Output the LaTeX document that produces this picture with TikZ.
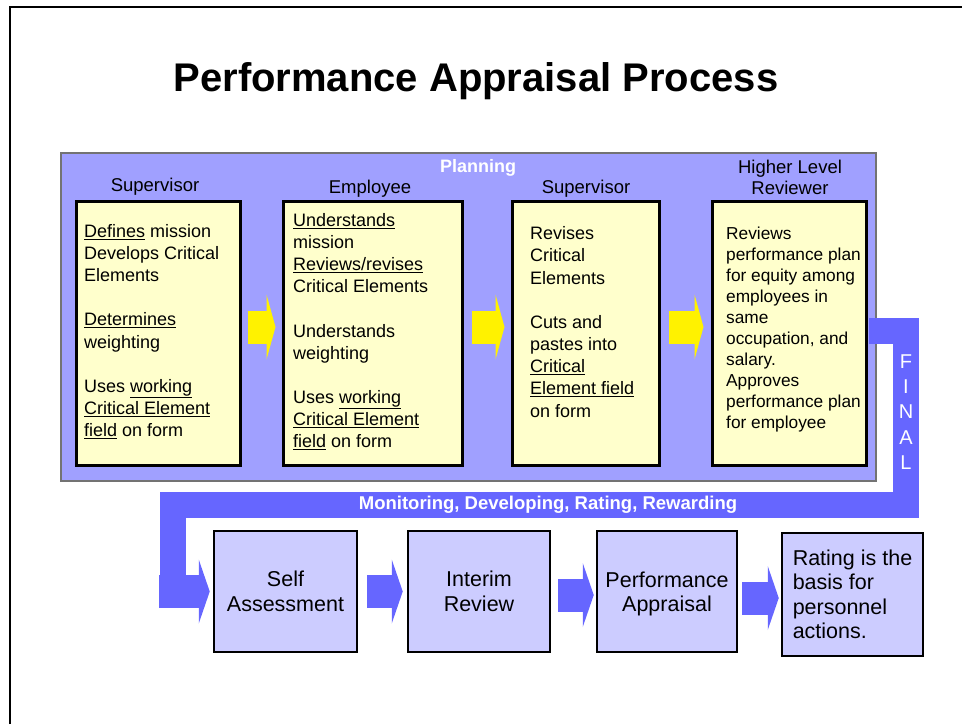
\documentclass[tikz,border=0pt]{standalone}
\usepackage{fontspec}
\setmainfont{Liberation Sans}
\usetikzlibrary{arrows.meta}
\usetikzlibrary{positioning}

\definecolor{planfill}{HTML}{A0A0FF}
\definecolor{flowblue}{HTML}{6666FF}
\definecolor{lowfill}{HTML}{CCCCFF}
\definecolor{notefill}{HTML}{FFFFCC}

\newcommand{\fsz}[2]{\fontsize{#1}{#2}\selectfont}

\begin{document}
\begin{tikzpicture}[x=1pt,y=-1pt,line join=miter,
  notebox/.style={draw=black,line width=3pt,fill=notefill,inner sep=0pt},
  lowbox/.style={draw=black,line width=2.5pt,fill=lowfill,inner sep=0pt,align=center,font=\fsz{21.5}{24.5}},
  head/.style={font=\fsz{18.5}{21},align=center},
  notetxt/.style={anchor=north west,inner sep=0pt,align=left,font=\fsz{18}{22.2}},
  yarrow/.style={draw=yellow,line width=33pt,-{Triangle[length=9pt,width=65pt,line width=0pt]}},
  barrow/.style={draw=flowblue,line width=33pt,-{Triangle[length=11pt,width=64pt,line width=0pt]}},
  finalbar/.style={draw=flowblue,line width=26pt}]
\useasboundingbox (0,0) rectangle (962,724);
% slide frame
\draw [line width=2pt] (10,724) -- (10,7) -- (962,7);
\node[font=\fsz{40}{48}\bfseries] (title) at (476,81) {Performance Appraisal Process};
% planning block
\draw [fill=planfill,draw=black!55,line width=1.5pt] (61,153) rectangle (876,481);
\node[font=\fsz{18}{21}\bfseries,text=white] (plan) at (478,168) {Planning};
\node[head] (h1) at (155,187) {Supervisor};
\node[head] (h2) at (370,189) {Employee};
\node[head] (h3) at (586,189) {Supervisor};
\node[head] (h4) at (790,177) {Higher Level\\Reviewer};
\node[notebox,minimum width=164pt,minimum height=264pt] (sup1) at (158,333) {};
\node[notebox,minimum width=179pt,minimum height=264pt] (emp) at (372.5,333) {};
\node[notebox,minimum width=147pt,minimum height=264pt] (sup2) at (585.5,333) {};
\node[notebox,minimum width=154pt,minimum height=264pt] (rev) at (789,333) {};
\node[notetxt] (t1) at (84,224) {\underline{Defines} mission\\Develops Critical\\Elements\\[22pt]\underline{Determines}\\weighting\\[22pt]Uses \underline{working}\\\underline{Critical Element}\\\underline{field} on form};
\node[notetxt] (t2) at (293,213) {\underline{Understands}\\mission\\\underline{Reviews/revises}\\Critical Elements\\[22pt]Understands\\weighting\\[22pt]Uses \underline{working}\\\underline{Critical Element}\\\underline{field} on form};
\node[notetxt] (t3) at (530,226.5) {Revises\\Critical\\Elements\\[22pt]Cuts and\\pastes into\\\underline{Critical}\\\underline{Element field}\\on form};
\node[notetxt,font=\fsz{17.3}{21}] (t4) at (726,226.8) {Reviews\\performance plan\\for equity among\\employees in\\same\\occupation, and\\salary.\\Approves\\performance plan\\for employee};
\draw[yarrow] ([xshift=6pt,yshift=6pt]sup1.east) -- ([xshift=-6pt,yshift=6pt]emp.west);
\draw[yarrow] ([xshift=8pt,yshift=6pt]emp.east) -- ([xshift=-6pt,yshift=6pt]sup2.west);
\draw[yarrow] ([xshift=8pt,yshift=6pt]sup2.east) -- ([xshift=-7pt,yshift=6pt]rev.west);
% lower row
\node[lowbox,minimum width=143pt,minimum height=121pt] (self) at (285.5,591.5) {Self\\Assessment};
\node[lowbox,minimum width=142pt,minimum height=121pt] (interim) at (479,591.5) {Interim\\Review};
\node[lowbox,minimum width=140pt,minimum height=121pt,text depth=0pt] (appr) at (667,591.5) {Performance\\Appraisal};
\node[lowbox,minimum width=141pt,minimum height=123pt,align=left] (basis) at (852.5,594.5) {Rating is the\\basis for\\personnel\\actions.};
% final loop
\coordinate (fcorner) at (905.5,505);
\coordinate (turn) at (172.5,591.5);
\draw[finalbar] ([xshift=1.5pt,yshift=2pt]rev.east) -| (fcorner) -| (turn);
\draw[barrow] ([xshift=-13.5pt]turn) -- ([xshift=-3pt]self.west);
\node[font=\fsz{20}{25.3},text=white,align=center] (fin) at (906,412) {F\\I\\N\\A\\L};
\node[font=\fsz{18.5}{22}\bfseries,text=white] (mon) at (548,505) {Monitoring, Developing, Rating, Rewarding};
\draw[barrow] ([xshift=9pt]self.east) -- ([xshift=-4pt]interim.west);
\draw[barrow] ([xshift=7pt,yshift=-3.5pt]interim.east) -- ([xshift=-2pt,yshift=-3.5pt]appr.west);
\draw[barrow] ([xshift=4pt,yshift=-6.5pt]appr.east) -- ([xshift=-2pt,yshift=-3.5pt]basis.west);
\end{tikzpicture}
\end{document}
